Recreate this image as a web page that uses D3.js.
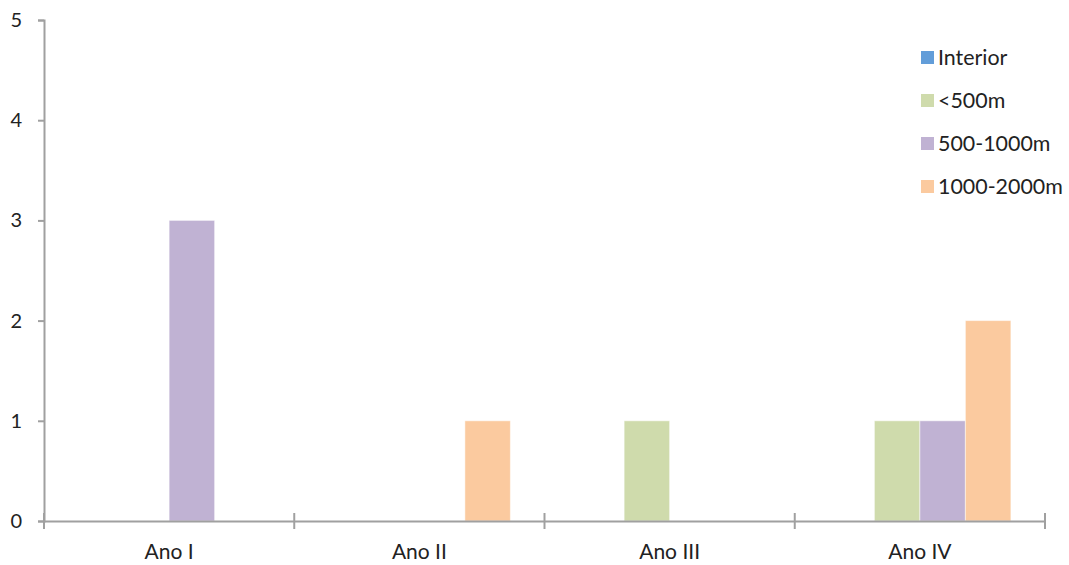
<!DOCTYPE html>
<html><head><meta charset="utf-8">
<script src="https://cdn.jsdelivr.net/npm/d3@7"></script>
<style>body{margin:0;background:#fff}svg{display:block}text{font-family:"Lato","DejaVu Sans",sans-serif;fill:#222}</style>
</head><body><svg id="c" width="1069" height="565"></svg>
<script>
const categories = ["Ano I","Ano II","Ano III","Ano IV"];
const seriesNames = ["Interior","<500m","500-1000m","1000-2000m"];
const interior = [0,0,0,0];
const lt500 = [0,0,1,1];
const m500_1000 = [3,0,0,1];
const m1000_2000 = [0,1,0,2];
const yTicks = [0,1,2,3,4,5];
const colors = ["#629DD9","#CFDBAC","#C0B2D3","#FBCA9F"];
const seriesValues = [interior, lt500, m500_1000, m1000_2000];

const svg = d3.select("#c");
const m = {l:44, r:24, t:20, b:44};
const W = 1069, H = 565;
const FONT = '"Lato","DejaVu Sans",sans-serif';
const x = d3.scaleBand().domain(categories).range([m.l, W - m.r]).paddingInner(0).paddingOuter(0);
const xs = d3.scaleBand().domain(seriesNames).range([0, x.bandwidth()]).paddingInner(0).paddingOuter(0.75);
const y = d3.scaleLinear().domain([0,5]).range([H - m.b, m.t]);

const axisCol = "#a0a0a0";
const data = [];
categories.forEach((c,i)=>seriesNames.forEach((s,j)=>{ if(seriesValues[j][i]>0) data.push({c,s,v:seriesValues[j][i],col:colors[j]}); }));
svg.append("g").selectAll("rect").data(data).join("rect")
  .attr("x", d=>x(d.c)+xs(d.s)).attr("width", xs.bandwidth())
  .attr("y", d=>y(d.v)).attr("height", d=>y(0)-y(d.v))
  .attr("fill", d=>d.col).attr("stroke","#fff").attr("stroke-opacity",0.5).attr("stroke-width",1);

const ya = svg.append("g").attr("transform",`translate(${m.l},0)`)
  .call(d3.axisLeft(y).tickValues(yTicks).tickSize(6).tickPadding(16).tickFormat(d3.format("d")));
ya.select(".domain").attr("stroke",axisCol).attr("stroke-width",2);
ya.selectAll(".tick line").attr("stroke",axisCol).attr("stroke-width",2);
ya.selectAll("text").attr("font-size",20).attr("fill","#222").style("font-family",FONT);

const xa = svg.append("g").attr("transform",`translate(0,${y(0)})`)
  .call(d3.axisBottom(x).tickSize(0).tickPadding(20));
xa.select(".domain").attr("stroke",axisCol).attr("stroke-width",2);
xa.selectAll("text").attr("font-size",21).attr("fill","#222").attr("dy","0.85em").style("font-family",FONT);
const bounds = categories.map(c=>x(c)).concat([x(categories[categories.length-1])+x.bandwidth()]);
xa.selectAll("line.sep").data(bounds).join("line").attr("class","sep")
  .attr("x1",d=>d).attr("x2",d=>d).attr("y1",-8).attr("y2",8)
  .attr("stroke",axisCol).attr("stroke-width",2);

const lg = svg.append("g").selectAll("g").data(seriesNames).join("g")
  .attr("transform",(d,i)=>`translate(921,${57 + i*43})`);
lg.append("rect").attr("x",0).attr("y",-6).attr("width",13).attr("height",13).attr("fill",(d,i)=>colors[i]);
lg.append("text").attr("x",17).attr("y",0).attr("dy","0.35em").attr("font-size",21.4).text(d=>d);
</script></body></html>
